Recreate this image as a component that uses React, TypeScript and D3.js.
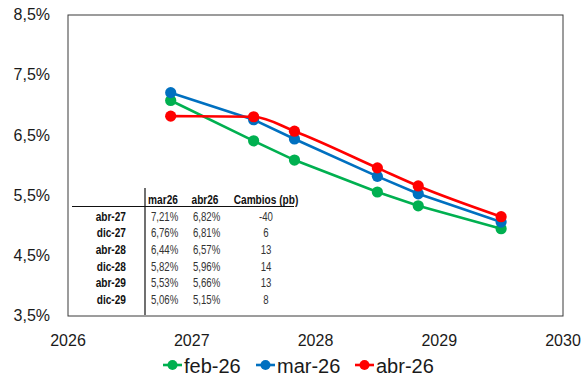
import React from "react";
import * as d3 from "d3";

// Forward-curve points (decimal year) and policy-rate path per vintage (%)
const xYears = [2026.83, 2027.5, 2027.83, 2028.5, 2028.83, 2029.5];
const feb26 = [7.08, 6.41, 6.09, 5.56, 5.33, 4.95];
const mar26 = [7.21, 6.76, 6.44, 5.82, 5.53, 5.06];
const abr26 = [6.82, 6.81, 6.57, 5.96, 5.66, 5.15];

const seriesNames = ["feb-26", "mar-26", "abr-26"];
const seriesColors = ["#00B050", "#0070C0", "#FF0000"];

const yTicks = [3.5, 4.5, 5.5, 6.5, 7.5, 8.5];
const xTicks = [2026, 2027, 2028, 2029, 2030];

// Inset table
const tableRows = ["abr-27", "dic-27", "abr-28", "dic-28", "abr-29", "dic-29"];
const tableHeaders = ["mar26", "abr26", "Cambios (pb)"];
const changesPb = [-40, 6, 13, 14, 13, 8];

const W = 587;
const H = 377;
const plot = { left: 68, right: 563, top: 15, bottom: 316 };

const fmtPct = (v: number) => v.toFixed(2).replace(".", ",") + "%";
const fmtTick = (v: number) => v.toFixed(1).replace(".", ",") + "%";

const font = "'Liberation Sans', Arial, sans-serif";

// condensed table text: horizontally squeezed around its anchor point
function NarrowText(props: {
  x: number;
  y: number;
  anchor?: "start" | "middle" | "end";
  bold?: boolean;
  children: React.ReactNode;
}) {
  const sx = props.bold ? 0.81 : 0.77;
  return (
    <g transform={`translate(${props.x},${props.y}) scale(${sx},1)`}>
      <text
        x={0}
        y={0}
        textAnchor={props.anchor || "start"}
        fontWeight={props.bold ? "bold" : "normal"}
        fontFamily={font}
        fontSize={12.5}
        fill={props.bold ? "#111" : "#333"}
      >
        {props.children}
      </text>
    </g>
  );
}

export default function App() {
  const x = d3.scaleLinear().domain([2026, 2030]).range([plot.left, plot.right]);
  const y = d3.scaleLinear().domain([3.5, 8.5]).range([plot.bottom, plot.top]);

  const series = [feb26, mar26, abr26];
  const curves = [d3.curveLinear, d3.curveLinear, d3.curveMonotoneX];

  // table layout
  const tLine = 145;
  const tHeaderY = 204;
  const tRow0 = 220.5;
  const tRowStep = 16.7;
  const colMar = 151;
  const colAbr = 193;
  const colChg = 266;

  return (
    <svg
      width={W}
      height={H}
      style={{ position: "absolute", left: 0, top: 0, background: "#fff" }}
    >
      <rect x={0} y={0} width={W} height={H} fill="#fff" />
      <rect
        x={plot.left}
        y={plot.top}
        width={plot.right - plot.left}
        height={plot.bottom - plot.top}
        fill="none"
        stroke="#3a3a3a"
        strokeWidth={1}
      />

      {yTicks.map((t) => (
        <text
          key={"y" + t}
          x={50}
          y={y(t) + 1}
          textAnchor="end"
          dominantBaseline="middle"
          fontFamily={font}
          fontSize={16}
          fill="#1a1a1a"
        >
          {fmtTick(t)}
        </text>
      ))}
      {xTicks.map((t) => (
        <text
          key={"x" + t}
          x={x(t)}
          y={346}
          textAnchor="middle"
          fontFamily={font}
          fontSize={16}
          fill="#1a1a1a"
        >
          {t}
        </text>
      ))}

      {/* inset table */}
      <g>
        <line x1={tLine} x2={tLine} y1={188} y2={315} stroke="#111" strokeWidth={1.2} />
        <line x1={72} x2={294} y1={206.5} y2={206.5} stroke="#111" strokeWidth={1.2} />
        <NarrowText x={colMar + 12} y={tHeaderY} anchor="middle" bold>
          {tableHeaders[0]}
        </NarrowText>
        <NarrowText x={colAbr + 12} y={tHeaderY} anchor="middle" bold>
          {tableHeaders[1]}
        </NarrowText>
        <NarrowText x={colChg} y={tHeaderY} anchor="middle" bold>
          {tableHeaders[2]}
        </NarrowText>
        {tableRows.map((r, i) => (
          <g key={r}>
            <NarrowText x={126} y={tRow0 + i * tRowStep} anchor="end" bold>
              {r}
            </NarrowText>
            <NarrowText x={colMar} y={tRow0 + i * tRowStep}>
              {fmtPct(mar26[i])}
            </NarrowText>
            <NarrowText x={colAbr} y={tRow0 + i * tRowStep}>
              {fmtPct(abr26[i])}
            </NarrowText>
            <NarrowText x={colChg} y={tRow0 + i * tRowStep} anchor="middle">
              {changesPb[i]}
            </NarrowText>
          </g>
        ))}
      </g>

      {series.map((vals, si) => {
        const line = d3
          .line<number>()
          .x((_, i) => x(xYears[i]))
          .y((v) => y(v))
          .curve(curves[si]);
        return (
          <g key={seriesNames[si]}>
            <path
              d={line(vals) || ""}
              fill="none"
              stroke={seriesColors[si]}
              strokeWidth={2.6}
            />
            {vals.map((v, i) => (
              <circle
                key={i}
                cx={x(xYears[i])}
                cy={y(v)}
                r={5.6}
                fill={seriesColors[si]}
              />
            ))}
          </g>
        );
      })}

      {/* legend */}
      {seriesNames.map((n, i) => {
        const lx = [163, 256, 355][i];
        return (
          <g key={"lg" + n}>
            <line
              x1={lx}
              x2={lx + 19}
              y1={365}
              y2={365}
              stroke={seriesColors[i]}
              strokeWidth={2.6}
            />
            <circle cx={lx + 9.5} cy={365} r={5} fill={seriesColors[i]} />
            <text
              x={lx + 21}
              y={372.5}
              fontFamily={font}
              fontSize={20}
              fill="#1a1a1a"
            >
              {n}
            </text>
          </g>
        );
      })}
    </svg>
  );
}
